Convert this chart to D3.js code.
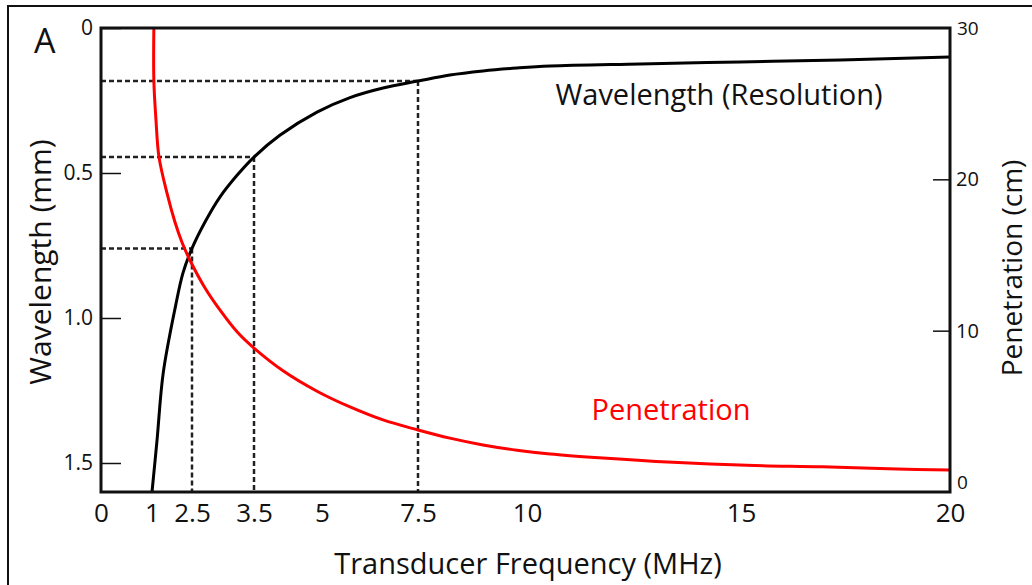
<!DOCTYPE html>
<html>
<head>
<meta charset="utf-8">
<script src="https://cdn.jsdelivr.net/npm/d3@7"></script>
<style>
  body { margin: 0; background: #fff; }
  svg text { font-family: "Open Sans", "Noto Sans", sans-serif; fill: #111; }
</style>
</head>
<body>
<svg id="chart" width="1032" height="585"></svg>
<script>
// frequency tick labels (MHz)
const freqTicks = [0, 1, 2.5, 3.5, 5, 7.5, 10, 15, 20];
const wlTicks = [0, 0.5, 1.0, 1.5];
const penTicks = [10, 20];
const penEndTicks = [0, 30];

// wavelength curve (black)
const wlFreq = [1.0, 1.19, 1.42, 1.88, 2.16, 2.5, 2.71, 2.95, 3.23, 3.5, 4.07, 4.89, 5.73, 6.59, 7.5, 8.23, 8.99, 9.77, 10.54, 12.64, 14.98, 17.38, 20];
const wlValue = [1.6, 1.42, 1.19, 0.96, 0.845, 0.76, 0.669, 0.583, 0.507, 0.445, 0.37, 0.29, 0.24, 0.207, 0.183, 0.162, 0.148, 0.138, 0.131, 0.124, 0.117, 0.110, 0.10];

// penetration curve (red)
const penFreq = [1.07, 1.07, 1.15, 1.26, 1.56, 1.86, 2.12, 2.42, 2.71, 2.95, 3.23, 3.5, 4.14, 4.89, 5.73, 6.59, 7.5, 8.23, 8.99, 9.77, 10.54, 11.68, 13.41, 15.14, 16.95, 18.73, 20];
const penValue = [30, 26.5, 23.9, 21.5, 19.1, 17.18, 15.86, 14.67, 12.82, 11.37, 9.91, 8.85, 7.35, 6.0, 4.96, 4.1, 3.44, 2.9, 2.45, 2.1, 1.85, 1.6, 1.3, 1.1, 1.0, 0.86, 0.8];

// reference markers (freq, wavelength)
const markFreq = [2.5, 3.5, 7.5];
const markWl = [0.76, 0.445, 0.183];

const svg = d3.select("#chart");

// outer frame
svg.append("rect")
  .attr("x", 8).attr("y", 6)
  .attr("width", 1040).attr("height", 600)
  .attr("fill", "none").attr("stroke", "#111").attr("stroke-width", 2);

// hand drawn axis, spacing is uneven
const x = d3.scaleLinear()
  .domain(freqTicks)
  .range([101, 152, 192, 254, 322, 418, 527, 741, 950]);

const yWl = d3.scaleLinear().domain([0, 1.5]).range([28, 463]);
const yPen = d3.scaleLinear().domain([0, 30]).range([482, 28]);
const wlMax = 1.6;

// dashed guide lines
const marks = markFreq.map((f, i) => ({ f: f, wl: markWl[i] }));
const guides = svg.append("g")
  .attr("stroke", "#222")
  .attr("stroke-width", 2.5)
  .attr("stroke-dasharray", "5,3");
guides.selectAll(".h").data(marks).enter().append("line")
  .attr("x1", x(0)).attr("x2", d => x(d.f))
  .attr("y1", d => yWl(d.wl)).attr("y2", d => yWl(d.wl));
guides.selectAll(".v").data(marks).enter().append("line")
  .attr("x1", d => x(d.f)).attr("x2", d => x(d.f))
  .attr("y1", d => yWl(d.wl)).attr("y2", yWl(wlMax));

// curves
const wlLine = d3.line()
  .x(d => x(d[0]))
  .y(d => yWl(d[1]))
  .curve(d3.curveCatmullRom.alpha(0.5));

const penLine = d3.line()
  .x(d => x(d[0]))
  .y(d => yPen(d[1]))
  .curve(d3.curveCatmullRom.alpha(0.5));

svg.append("path")
  .datum(wlFreq.map((f, i) => [f, wlValue[i]]))
  .attr("d", wlLine)
  .attr("fill", "none")
  .attr("stroke", "#000")
  .attr("stroke-width", 3);

svg.append("path")
  .datum(penFreq.map((f, i) => [f, penValue[i]]))
  .attr("d", penLine)
  .attr("fill", "none")
  .attr("stroke", "#ff0000")
  .attr("stroke-width", 3);

// plot box
svg.append("rect")
  .attr("x", x(0)).attr("y", yWl(0))
  .attr("width", x(20) - x(0)).attr("height", yWl(wlMax) - yWl(0))
  .attr("fill", "none").attr("stroke", "#111").attr("stroke-width", 3);

// left axis
const leftAxis = svg.append("g")
  .attr("transform", "translate(" + x(0) + ",0)")
  .call(d3.axisLeft(yWl)
    .tickValues(wlTicks)
    .tickSize(-20)
    .tickPadding(8)
    .tickFormat(d => d === 0 ? "0" : d3.format(".1f")(d)));

// right axis
const rightAxis = svg.append("g")
  .attr("transform", "translate(" + x(20) + ",0)")
  .call(d3.axisRight(yPen).tickValues(penTicks).tickSize(-17).tickPadding(6));
const rightEnds = svg.append("g")
  .attr("transform", "translate(" + x(20) + ",0)")
  .call(d3.axisRight(yPen).tickValues(penEndTicks).tickSize(0).tickPadding(7));

// bottom axis
const bottomAxis = svg.append("g")
  .attr("transform", "translate(0," + yWl(wlMax) + ")")
  .call(d3.axisBottom(x).tickValues(freqTicks).tickSize(0).tickPadding(12)
    .tickFormat(d => String(d)));

[leftAxis, rightAxis, rightEnds, bottomAxis].forEach(g => {
  g.select(".domain").remove();
  g.selectAll("line").attr("stroke", "#111").attr("stroke-width", 1.5);
  g.selectAll("text").attr("fill", "#111");
});
leftAxis.selectAll("text").style("font-size", "21px");
rightAxis.selectAll("text").style("font-size", "20px");
rightEnds.selectAll("text").style("font-size", "19px");
bottomAxis.selectAll("text").style("font-size", "26px");

// titles
svg.append("text")
  .attr("x", 528).attr("y", 574)
  .attr("text-anchor", "middle")
  .style("font-size", "29px")
  .text("Transducer Frequency (MHz)");

svg.append("text")
  .attr("transform", "translate(51,262) rotate(-90)")
  .attr("text-anchor", "middle")
  .style("font-size", "30px")
  .text("Wavelength (mm)");

svg.append("text")
  .attr("transform", "translate(1022,268) rotate(-90)")
  .attr("text-anchor", "middle")
  .style("font-size", "28px")
  .text("Penetration (cm)");

svg.append("text")
  .attr("x", 719).attr("y", 105)
  .attr("text-anchor", "middle")
  .style("font-size", "29px")
  .text("Wavelength (Resolution)");

svg.append("text")
  .attr("x", 671).attr("y", 420)
  .attr("text-anchor", "middle")
  .style("font-size", "29px")
  .style("fill", "#ff0000")
  .text("Penetration");

svg.append("text")
  .attr("x", 34).attr("y", 53)
  .style("font-size", "34px")
  .text("A");
</script>
</body>
</html>
